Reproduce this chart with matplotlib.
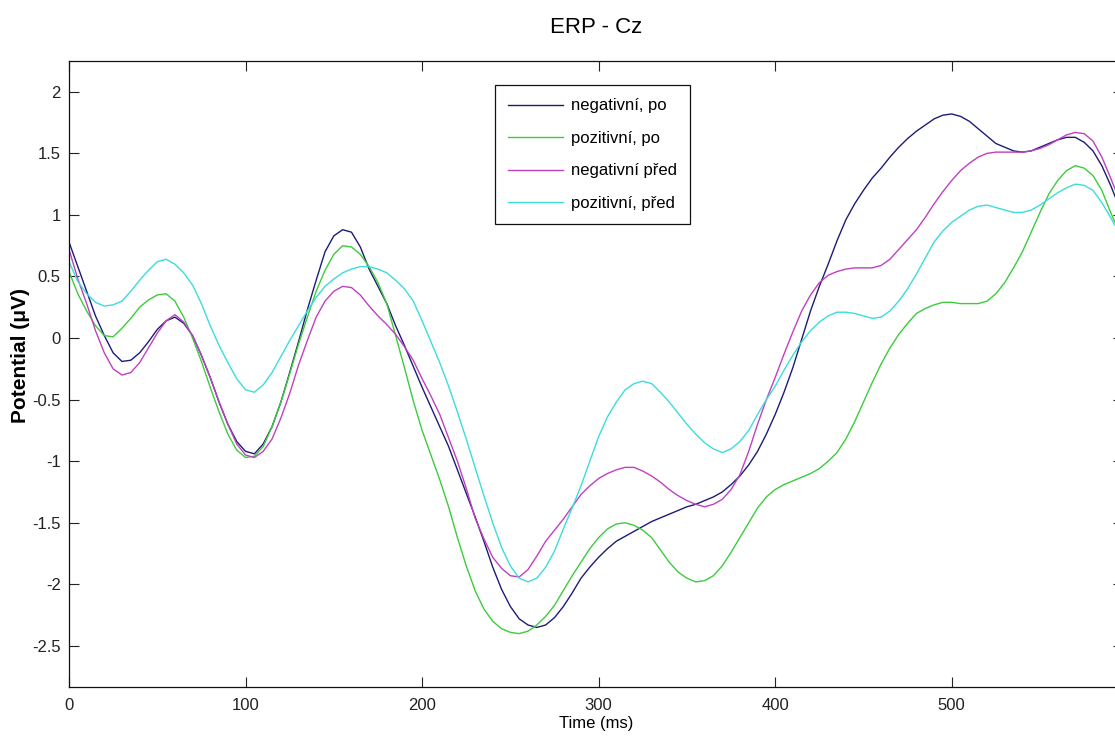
import matplotlib
matplotlib.use("Agg")
import matplotlib.pyplot as plt

plt.rcParams['font.family'] = ['Liberation Sans', 'DejaVu Sans']

# sample times (ms), every 5 ms
time_ms = list(range(0, 601, 5))

neg_po = [0.78, 0.58, 0.38, 0.18, 0.02, -0.12, -0.19, -0.18, -0.12, -0.03,
          0.07, 0.14, 0.17, 0.12, 0.02, -0.14, -0.32, -0.52, -0.70, -0.84,
          -0.92, -0.94, -0.86, -0.72, -0.52, -0.28, -0.03, 0.23, 0.47, 0.70,
          0.83, 0.88, 0.86, 0.74, 0.56, 0.42, 0.28, 0.10, -0.06, -0.23,
          -0.40, -0.56, -0.72, -0.88, -1.07, -1.26, -1.45, -1.65, -1.86, -2.04,
          -2.18, -2.28, -2.33, -2.35, -2.33, -2.27, -2.18, -2.07, -1.95, -1.86,
          -1.78, -1.71, -1.65, -1.61, -1.57, -1.53, -1.49, -1.46, -1.43, -1.40,
          -1.37, -1.35, -1.32, -1.29, -1.25, -1.19, -1.12, -1.03, -0.92, -0.78,
          -0.62, -0.44, -0.24, -0.01, 0.22, 0.42, 0.60, 0.79, 0.96, 1.09,
          1.20, 1.30, 1.38, 1.47, 1.55, 1.62, 1.68, 1.73, 1.78, 1.81,
          1.82, 1.80, 1.76, 1.70, 1.64, 1.58, 1.55, 1.52, 1.51, 1.52,
          1.55, 1.58, 1.61, 1.63, 1.63, 1.59, 1.52, 1.40, 1.24, 1.06,
          0.90]

poz_po = [0.54, 0.36, 0.22, 0.10, 0.02, 0.01, 0.08, 0.16, 0.25, 0.31,
          0.35, 0.36, 0.30, 0.17, 0.00, -0.19, -0.40, -0.60, -0.78, -0.91,
          -0.97, -0.96, -0.88, -0.72, -0.52, -0.29, -0.05, 0.17, 0.38, 0.55,
          0.68, 0.75, 0.74, 0.68, 0.58, 0.45, 0.28, 0.02, -0.24, -0.51,
          -0.75, -0.95, -1.15, -1.37, -1.62, -1.85, -2.05, -2.20, -2.30, -2.36,
          -2.39, -2.40, -2.38, -2.33, -2.26, -2.17, -2.05, -1.93, -1.82, -1.71,
          -1.62, -1.55, -1.51, -1.50, -1.52, -1.56, -1.62, -1.72, -1.82, -1.90,
          -1.95, -1.98, -1.97, -1.93, -1.85, -1.74, -1.62, -1.50, -1.38, -1.29,
          -1.23, -1.19, -1.16, -1.13, -1.10, -1.06, -1.00, -0.93, -0.82, -0.68,
          -0.52, -0.36, -0.21, -0.08, 0.03, 0.12, 0.20, 0.24, 0.27, 0.29,
          0.29, 0.28, 0.28, 0.28, 0.30, 0.36, 0.45, 0.57, 0.70, 0.86,
          1.02, 1.17, 1.28, 1.36, 1.40, 1.38, 1.32, 1.20, 1.02, 0.86,
          0.70]

neg_pred = [0.72, 0.48, 0.28, 0.06, -0.12, -0.25, -0.30, -0.28, -0.20, -0.08,
            0.04, 0.14, 0.19, 0.13, 0.02, -0.14, -0.32, -0.52, -0.70, -0.86,
            -0.95, -0.97, -0.92, -0.82, -0.65, -0.45, -0.22, -0.02, 0.17, 0.30,
            0.38, 0.42, 0.41, 0.35, 0.26, 0.18, 0.11, 0.03, -0.07, -0.18,
            -0.33, -0.47, -0.62, -0.81, -1.00, -1.22, -1.46, -1.63, -1.78, -1.87,
            -1.93, -1.94, -1.88, -1.77, -1.65, -1.56, -1.47, -1.37, -1.27, -1.20,
            -1.14, -1.10, -1.07, -1.05, -1.05, -1.08, -1.12, -1.17, -1.23, -1.28,
            -1.32, -1.35, -1.37, -1.35, -1.31, -1.23, -1.11, -0.92, -0.70, -0.50,
            -0.32, -0.13, 0.05, 0.22, 0.35, 0.45, 0.51, 0.54, 0.56, 0.57,
            0.57, 0.57, 0.59, 0.64, 0.72, 0.80, 0.88, 0.98, 1.09, 1.19,
            1.28, 1.36, 1.42, 1.47, 1.50, 1.51, 1.51, 1.51, 1.51, 1.52,
            1.54, 1.57, 1.61, 1.65, 1.67, 1.66, 1.60, 1.47, 1.30, 1.12,
            0.95]

poz_pred = [0.62, 0.46, 0.36, 0.29, 0.26, 0.27, 0.30, 0.38, 0.47, 0.55,
            0.62, 0.64, 0.60, 0.53, 0.43, 0.28, 0.10, -0.06, -0.20, -0.33,
            -0.42, -0.44, -0.38, -0.28, -0.15, -0.02, 0.10, 0.22, 0.33, 0.42,
            0.48, 0.53, 0.56, 0.58, 0.58, 0.56, 0.53, 0.47, 0.40, 0.30,
            0.14, -0.03, -0.20, -0.39, -0.60, -0.82, -1.05, -1.28, -1.50, -1.70,
            -1.85, -1.95, -1.98, -1.95, -1.86, -1.73, -1.55, -1.38, -1.20, -1.00,
            -0.80, -0.64, -0.52, -0.42, -0.37, -0.35, -0.37, -0.44, -0.52, -0.61,
            -0.70, -0.78, -0.85, -0.90, -0.93, -0.90, -0.84, -0.75, -0.62, -0.50,
            -0.39, -0.26, -0.14, -0.03, 0.06, 0.13, 0.18, 0.21, 0.21, 0.20,
            0.18, 0.16, 0.17, 0.22, 0.30, 0.40, 0.52, 0.65, 0.78, 0.87,
            0.94, 0.99, 1.04, 1.07, 1.08, 1.06, 1.04, 1.02, 1.02, 1.04,
            1.08, 1.13, 1.18, 1.22, 1.25, 1.24, 1.20, 1.10, 0.98, 0.85,
            0.72]

labels = ['negativní, po', 'pozitivní, po', 'negativní před', 'pozitivní, před']
colors = ['#1c1c78', '#3ccc3c', '#c040c0', '#3cdcdc']
yticks = [-2.5, -2, -1.5, -1, -0.5, 0, 0.5, 1, 1.5, 2]
ytick_labels = ['-2.5', '-2', '-1.5', '-1', '-0.5', '0', '0.5', '1', '1.5', '2']
xticks = [0, 100, 200, 300, 400, 500]

fig = plt.figure(figsize=(11.15, 7.45), dpi=100)
ax = fig.add_axes([69/1115, 1 - 687.3/745, (1123 - 69)/1115, (687.3 - 61)/745])

for series, lab, col in zip([neg_po, poz_po, neg_pred, poz_pred], labels, colors):
    ax.plot(time_ms, series, color=col, linewidth=1.0, label=lab)

ax.set_xlim(0, 597)
ax.set_ylim(-2.836, 2.25)
ax.set_xticks(xticks)
ax.set_xticklabels([str(t) for t in xticks])
ax.set_yticks(yticks)
ax.set_yticklabels(ytick_labels)
ax.tick_params(direction='in', length=7.5, width=0.8, top=True, right=True,
               labelsize=12, colors='#222222', pad=6)
ax.tick_params(axis='x', pad=8)
for sp in ax.spines.values():
    sp.set_linewidth(0.9)
    sp.set_color('#111111')

ax.set_title('ERP - Cz', fontsize=16, pad=20)
ax.set_xlabel('Time (ms)', fontsize=12, labelpad=2)
ax.set_ylabel('Potential (\u03bcV)', fontsize=15, fontweight='bold')
ax.yaxis.set_label_coords(-0.037, 0.53)

leg = ax.legend(loc='upper left', bbox_to_anchor=(495/1115, 1 - 85/745),
                bbox_transform=fig.transFigure, borderaxespad=0,
                fontsize=12, frameon=True, fancybox=False, shadow=False,
                handlelength=3.3, handletextpad=0.45, labelspacing=1.05,
                borderpad=0.8)
leg.get_frame().set_edgecolor('#111111')
leg.get_frame().set_linewidth(0.9)
leg.get_frame().set_alpha(1)

fig.savefig('out.png', dpi=100)
